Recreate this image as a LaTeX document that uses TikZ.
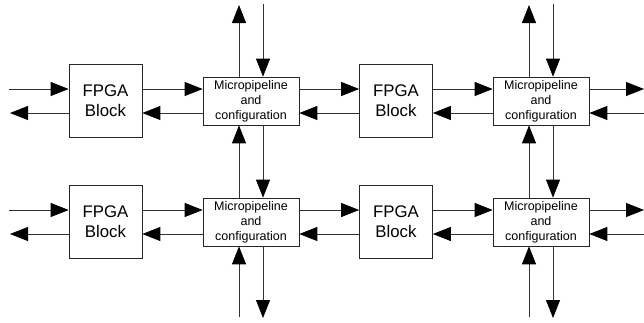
\documentclass[tikz,border=0pt]{standalone}
\usepackage{fontspec}
\setmainfont{Liberation Sans}
\usetikzlibrary{arrows.meta,calc}
\begin{document}
\begin{tikzpicture}[x=1pt,y=-1pt,
  fpga/.style={draw=black!85, line width=0.7pt, fill=white, minimum width=73pt, minimum height=73pt, inner sep=0pt, align=center, font=\fontsize{16.8}{20}\selectfont},
  micro/.style={draw=black!85, line width=0.7pt, fill=white, minimum width=96pt, minimum height=48pt, inner sep=0pt, align=center, font=\fontsize{12.5}{15}\selectfont},
  link/.style={draw=black!80, line width=0.8pt, -{Triangle[length=18pt,width=14pt,color=black]}}]
\useasboundingbox (0,0) rectangle (644,322);
\foreach \r/\y in {1/101,2/222}{
  \node[fpga]  (f\r1) at (105.5,\y) {FPGA\\Block};
  \node[micro] (m\r1) at (251,\y) {Micropipeline\\and\\configuration};
  \node[fpga]  (f\r2) at (396,\y) {FPGA\\Block};
  \node[micro] (m\r2) at (541,\y) {Micropipeline\\and\\configuration};
  \coordinate (lin\r)  at (9,\y-12);
  \coordinate (lout\r) at (10,\y+12);
  \coordinate (rout\r) at (644,\y-12);
  \coordinate (rin\r)  at (644,\y+12);
  \draw[link] (lin\r) -- (lin\r -| f\r1.west);
  \draw[link] (f\r1.west |- lout\r) -- (lout\r);
  \draw[link] ([yshift=12pt]f\r1.east) -- ([yshift=12pt]m\r1.west);
  \draw[link] ([yshift=-12pt]m\r1.west) -- ([yshift=-12pt]f\r1.east);
  \draw[link] ([yshift=12pt]m\r1.east) -- ([yshift=12pt]f\r2.west);
  \draw[link] ([yshift=-12pt]f\r2.west) -- ([yshift=-12pt]m\r1.east);
  \draw[link] ([yshift=12pt]f\r2.east) -- ([yshift=12pt]m\r2.west);
  \draw[link] ([yshift=-12pt]m\r2.west) -- ([yshift=-12pt]f\r2.east);
  \draw[link] ([yshift=12pt]m\r2.east) -- (rout\r);
  \draw[link] (rin\r) -- ([yshift=-12pt]m\r2.east);
}
\foreach \c/\x in {1/251,2/541}{
  \coordinate (tup\c) at (\x-12,5);
  \coordinate (tdn\c) at (\x+12,4);
  \coordinate (bup\c) at (\x-12,317);
  \coordinate (bdn\c) at (\x+12,318);
  \draw[link] ([xshift=-12pt]m1\c.north) -- (tup\c);
  \draw[link] (tdn\c) -- ([xshift=12pt]m1\c.north);
  \draw[link] ([xshift=-12pt]m2\c.north) -- ([xshift=-12pt]m1\c.south);
  \draw[link] ([xshift=12pt]m1\c.south) -- ([xshift=12pt]m2\c.north);
  \draw[link] (bup\c) -- ([xshift=-12pt]m2\c.south);
  \draw[link] ([xshift=12pt]m2\c.south) -- (bdn\c);
}
\end{tikzpicture}
\end{document}
